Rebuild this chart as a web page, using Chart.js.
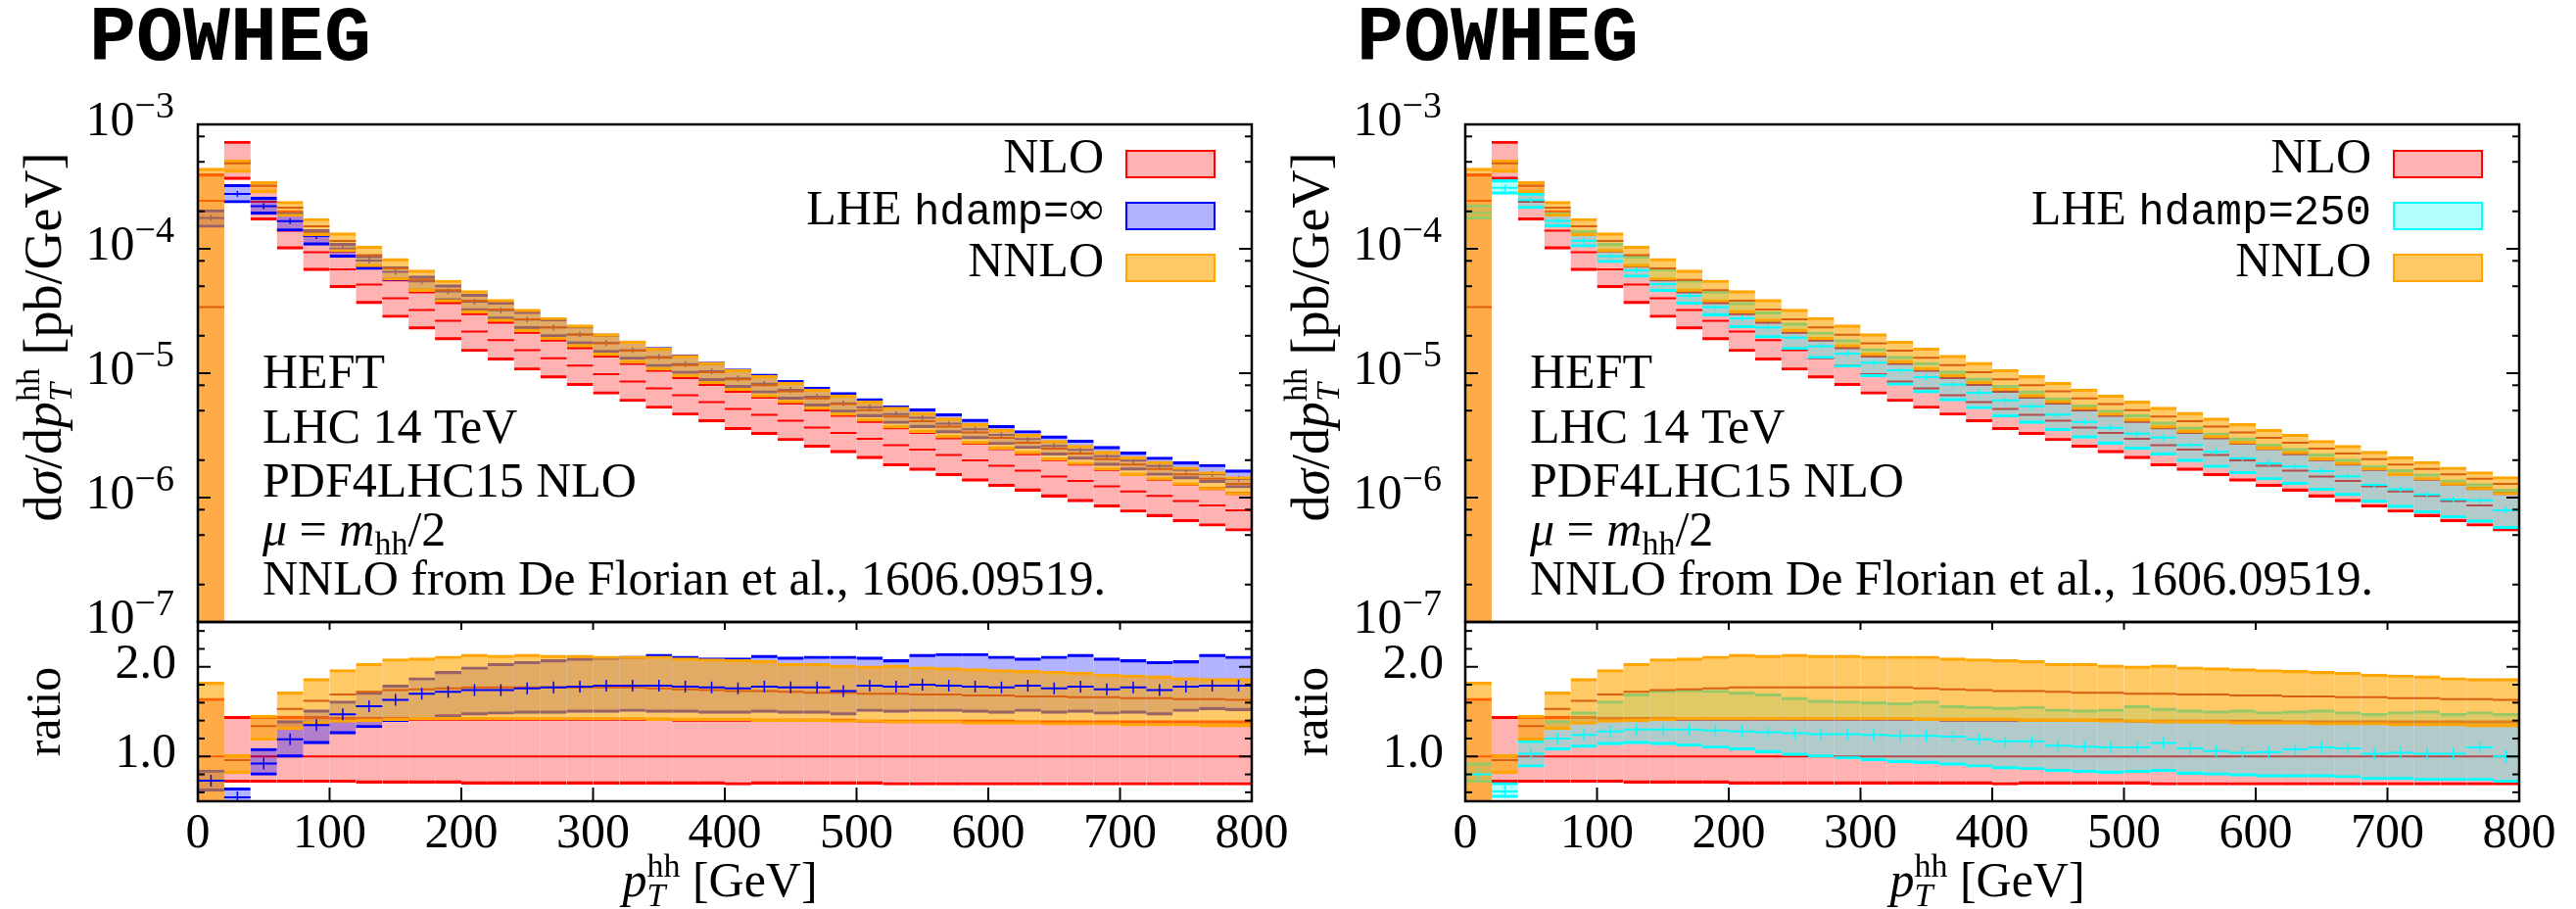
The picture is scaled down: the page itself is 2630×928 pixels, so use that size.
<!DOCTYPE html>
<html>
<head>
<meta charset="utf-8">
<title>POWHEG p_T^hh</title>
<script src="https://cdn.jsdelivr.net/npm/chart.js@4.4.1/dist/chart.umd.min.js"></script>
<style>
  html, body { margin: 0; padding: 0; background: #fff; }
  #wrap { position: relative; width: 2630px; height: 928px; overflow: hidden; }
  #wrap canvas { position: absolute; left: 0; top: 0; }
</style>
</head>
<body>
<div id="wrap">
  <canvas id="mainL" width="2630" height="928"></canvas>
  <canvas id="ratioL" width="2630" height="928"></canvas>
  <canvas id="mainR" width="2630" height="928"></canvas>
  <canvas id="ratioR" width="2630" height="928"></canvas>
</div>
<script>
// p_T^hh bins (GeV)
const binEdges = [0, 20, 40, 60, 80, 100, 120, 140, 160, 180, 200, 220, 240, 260, 280, 300, 320, 340, 360, 380,
  400, 420, 440, 460, 480, 500, 520, 540, 560, 580, 600, 620, 640, 660, 680, 700, 720, 740, 760, 780, 800];

// NLO central value, pb/GeV
const nloCentral = [2.43e-4, 5.07e-4, 2.39e-4, 1.40e-4, 9.38e-5, 6.83e-5, 5.16e-5, 4.00e-5, 3.22e-5, 2.64e-5,
  2.16e-5, 1.84e-5, 1.53e-5, 1.32e-5, 1.15e-5, 9.82e-6, 8.57e-6, 7.55e-6, 6.65e-6, 5.86e-6,
  5.16e-6, 4.63e-6, 4.15e-6, 3.66e-6, 3.31e-6, 2.97e-6, 2.64e-6, 2.43e-6, 2.20e-6, 1.99e-6,
  1.80e-6, 1.65e-6, 1.48e-6, 1.36e-6, 1.23e-6, 1.12e-6, 1.03e-6, 9.38e-7, 8.65e-7, 7.90e-7];

// everything below is a ratio to the NLO central value
const nloHiR = [1.65, 1.45, 1.45, 1.45, 1.45, 1.44, 1.44, 1.44, 1.43, 1.43,
  1.43, 1.43, 1.43, 1.43, 1.43, 1.43, 1.43, 1.43, 1.42, 1.42,
  1.42, 1.42, 1.42, 1.42, 1.42, 1.41, 1.41, 1.41, 1.41, 1.41,
  1.41, 1.40, 1.40, 1.40, 1.40, 1.40, 1.40, 1.40, 1.40, 1.40];
const nloLoR = [-0.40, 0.71, 0.71, 0.71, 0.71, 0.71, 0.70, 0.70, 0.70, 0.70,
  0.69, 0.69, 0.69, 0.69, 0.69, 0.69, 0.69, 0.69, 0.69, 0.69,
  0.68, 0.69, 0.69, 0.69, 0.69, 0.69, 0.68, 0.68, 0.68, 0.68,
  0.68, 0.68, 0.68, 0.68, 0.68, 0.68, 0.68, 0.68, 0.68, 0.68];

const nnloHiR = [1.83, 1.02, 1.46, 1.72, 1.87, 1.97, 2.04, 2.09, 2.10, 2.12,
  2.14, 2.13, 2.14, 2.13, 2.13, 2.12, 2.12, 2.12, 2.10, 2.09,
  2.08, 2.07, 2.04, 2.04, 2.02, 2.01, 2.02, 2.00, 1.99, 1.98,
  1.97, 1.96, 1.95, 1.94, 1.92, 1.91, 1.90, 1.88, 1.87, 1.87];
const nnloCR = [0.14, 0.96, 1.34, 1.53, 1.62, 1.69, 1.72, 1.74, 1.75, 1.76,
  1.77, 1.77, 1.77, 1.77, 1.77, 1.77, 1.77, 1.76, 1.75, 1.74,
  1.73, 1.73, 1.72, 1.71, 1.71, 1.70, 1.70, 1.69, 1.69, 1.68,
  1.68, 1.67, 1.67, 1.66, 1.66, 1.65, 1.65, 1.64, 1.64, 1.63];
const nnloLoR = [-0.50, 0.81, 1.18, 1.30, 1.36, 1.38, 1.39, 1.40, 1.41, 1.41,
  1.41, 1.41, 1.41, 1.41, 1.41, 1.41, 1.41, 1.40, 1.40, 1.40,
  1.40, 1.39, 1.39, 1.39, 1.38, 1.38, 1.37, 1.37, 1.37, 1.36,
  1.36, 1.36, 1.35, 1.35, 1.35, 1.34, 1.34, 1.34, 1.33, 1.33];

// LHE, hdamp = infinity (left)
const lheInfHiR = [0.85, 0.65, 1.09, 1.40, 1.52, 1.62, 1.72, 1.80, 1.88, 1.95,
  2.00, 2.04, 2.06, 2.08, 2.10, 2.11, 2.12, 2.14, 2.12, 2.10,
  2.10, 2.13, 2.11, 2.12, 2.12, 2.11, 2.08, 2.14, 2.15, 2.15,
  2.12, 2.10, 2.12, 2.14, 2.10, 2.08, 2.06, 2.07, 2.14, 2.12];
const lheInfCR = [0.73, 0.545, 0.92, 1.19, 1.35, 1.47, 1.56, 1.63, 1.70, 1.72,
  1.74, 1.74, 1.76, 1.77, 1.78, 1.79, 1.79, 1.79, 1.78, 1.77,
  1.76, 1.78, 1.77, 1.77, 1.73, 1.79, 1.78, 1.80, 1.79, 1.78,
  1.77, 1.79, 1.76, 1.78, 1.75, 1.77, 1.74, 1.78, 1.79, 1.79];
const lheInfLoR = [0.61, 0.46, 0.79, 0.99, 1.14, 1.25, 1.32, 1.39, 1.41, 1.44,
  1.46, 1.47, 1.48, 1.48, 1.49, 1.49, 1.50, 1.49, 1.49, 1.48,
  1.48, 1.49, 1.48, 1.48, 1.46, 1.50, 1.49, 1.50, 1.50, 1.49,
  1.48, 1.50, 1.48, 1.49, 1.47, 1.48, 1.46, 1.50, 1.52, 1.51];

// LHE, hdamp = 250 (right)
const lhe250HiR = [0.93, 0.71, 1.18, 1.40, 1.50, 1.62, 1.70, 1.74, 1.75, 1.74,
  1.72, 1.70, 1.66, 1.63, 1.62, 1.61, 1.60, 1.62, 1.57, 1.56,
  1.55, 1.56, 1.53, 1.52, 1.53, 1.57, 1.54, 1.52, 1.51, 1.52,
  1.50, 1.51, 1.52, 1.50, 1.48, 1.50, 1.51, 1.48, 1.50, 1.48];
const lhe250CR = [0.80, 0.61, 1.03, 1.20, 1.24, 1.28, 1.30, 1.30, 1.30, 1.29,
  1.28, 1.27, 1.26, 1.25, 1.25, 1.24, 1.23, 1.23, 1.22, 1.19,
  1.17, 1.17, 1.12, 1.11, 1.10, 1.10, 1.15, 1.09, 1.06, 1.04,
  1.05, 1.08, 1.10, 1.09, 1.03, 1.04, 1.03, 1.03, 1.10, 1.00];
const lhe250LoR = [0.71, 0.54, 0.88, 1.07, 1.10, 1.13, 1.14, 1.13, 1.11, 1.09,
  1.07, 1.04, 1.01, 0.99, 0.97, 0.95, 0.93, 0.92, 0.90, 0.88,
  0.86, 0.85, 0.83, 0.82, 0.81, 0.82, 0.83, 0.80, 0.79, 0.78,
  0.77, 0.77, 0.77, 0.76, 0.74, 0.74, 0.73, 0.73, 0.73, 0.71];

// axis ticks
const xTicks = [0, 100, 200, 300, 400, 500, 600, 700, 800];
const logExps = [-3, -4, -5, -6, -7];
const logMinorMant = [2, 5, 8];
const ratioTicks = [0.6, 0.8, 1.0, 1.2, 1.4, 1.6, 1.8, 2.0, 2.2, 2.4];
const ratioLabelled = [1.0, 2.0];

const colNLO = { line: '#ff0000', fill: 'rgba(255,0,0,0.3)' };
const colInf = { line: '#0000ff', fill: 'rgba(0,0,255,0.3)' };
const col250 = { line: '#00ffff', fill: 'rgba(0,255,255,0.3)' };
const colNNLO = { line: '#ffa500', fill: 'rgba(255,165,0,0.6)', mid: '#d9600e' };

const SERIF = "'Liberation Serif', 'Times New Roman', serif";
const MONO = "'Liberation Mono', 'Courier New', monospace";
const R50 = '50px ' + SERIF, I50 = 'italic 50px ' + SERIF;
const R54 = '54px ' + SERIF, I54 = 'italic 54px ' + SERIF;
const R34 = '34px ' + SERIF, I34 = 'italic 34px ' + SERIF, R38 = '38px ' + SERIF;
const TT = '44px ' + MONO;

const belowAxis = 1e-9; // negative/zero values: drawn down to the frame

function mid(i) { return (binEdges[i] + binEdges[i + 1]) / 2; }
function toMain(r) { return r.map((v, i) => v > 0 ? v * nloCentral[i] : belowAxis); }

function band(lo, hi, col, order) {
  return {
    type: 'bar',
    data: lo.map((l, i) => ({ x: mid(i), y: [l, hi[i]] })),
    backgroundColor: col.fill,
    borderColor: col.line,
    borderWidth: { top: 2.5, bottom: 2.5, left: 0, right: 0 },
    borderSkipped: false,
    barPercentage: 1,
    categoryPercentage: 1,
    grouped: false,
    order
  };
}
function steps(vals, color, order) {
  const pts = [];
  vals.forEach((v, i) => {
    pts.push({ x: binEdges[i], y: v }, { x: binEdges[i + 1], y: v }, { x: binEdges[i + 1], y: null });
  });
  return { type: 'line', data: pts, borderColor: color, borderWidth: 2, pointRadius: 0, spanGaps: false, fill: false, order };
}
function marks(vals, color, radius, order) {
  return {
    type: 'line', showLine: false,
    data: vals.map((v, i) => ({ x: mid(i), y: v })),
    pointStyle: 'line', pointRotation: 90, pointRadius: radius,
    pointBorderColor: color, pointBorderWidth: 1.5, order
  };
}

function buildSets(isMain, lhe, lheCol) {
  const f = isMain ? toMain : (r => r);
  const ones = nloCentral.map(() => 1);
  return [
    band(f(nloLoR), f(nloHiR), colNLO, 60),
    steps(isMain ? nloCentral : ones, colNLO.line, 55),
    band(f(lhe.lo), f(lhe.hi), lheCol, 50),
    steps(f(lhe.c), lheCol.line, isMain ? 45 : 30),
    marks(f(lhe.c), lheCol.line, isMain ? 3 : 6, isMain ? 44 : 29),
    band(f(nnloLoR), f(nnloHiR), colNNLO, 40),
    steps(f(nnloCR), colNNLO.mid, 35)
  ];
}

function hseg(ctx, x0, y, x1) { ctx.beginPath(); ctx.moveTo(x0, y); ctx.lineTo(x1, y); ctx.stroke(); }
function vseg(ctx, x, y0, y1) { ctx.beginPath(); ctx.moveTo(x, y0); ctx.lineTo(x, y1); ctx.stroke(); }

function partWidth(ctx, p) {
  const items = p.stack || [p];
  return Math.max(...items.map(q => { ctx.font = q.font; return ctx.measureText(q.t).width; }));
}
function drawRich(ctx, parts, x, y, align) {
  const widths = parts.map(p => partWidth(ctx, p));
  const total = widths.reduce((s, w) => s + w, 0);
  let cx = align === 'right' ? x - total : align === 'center' ? x - total / 2 : x;
  ctx.textAlign = 'left';
  ctx.textBaseline = 'alphabetic';
  parts.forEach((p, i) => {
    (p.stack || [p]).forEach(q => { ctx.font = q.font; ctx.fillText(q.t, cx, y + (q.dy || 0)); });
    cx += widths[i];
  });
}
function drawRotated(ctx, parts, bx, cy) {
  ctx.save();
  ctx.translate(bx, cy);
  ctx.rotate(-Math.PI / 2);
  drawRich(ctx, parts, 0, 0, 'center');
  ctx.restore();
}

const pT = [{ t: 'p', font: I50 }, { stack: [{ t: 'hh', font: R34, dy: -20 }, { t: 'T', font: I34, dy: 10 }] }];
const yTitle = [{ t: 'd', font: R54 }, { t: 'σ', font: I54 }, { t: '/d', font: R54 }, { t: 'p', font: I54 },
  { stack: [{ t: 'hh', font: R34, dy: -22 }, { t: 'T', font: I34, dy: 11 }] }, { t: ' [pb/GeV]', font: R54 }];
const notes = [
  [{ t: 'HEFT', font: R50 }],
  [{ t: 'LHC 14 TeV', font: R50 }],
  [{ t: 'PDF4LHC15 NLO', font: R50 }],
  [{ t: 'μ', font: I50 }, { t: ' = ', font: R50 }, { t: 'm', font: I50 }, { t: 'hh', font: R34, dy: 9 }, { t: '/2', font: R50 }],
  [{ t: 'NNLO from De Florian et al., 1606.09519.', font: R50 }]
];
const noteBase = [396, 452, 507, 557, 607];

const decor = {
  id: 'decor',
  afterDatasetsDraw(chart) {
    const { ctx, chartArea: a } = chart;
    ctx.save();
    ctx.strokeStyle = '#000';
    ctx.lineWidth = 2.5;
    ctx.strokeRect(a.left, a.top, a.right - a.left, a.bottom - a.top);
    ctx.restore();
  },
  afterDraw(chart, args, o) {
    const { ctx, chartArea: a, scales: { x, y } } = chart;
    ctx.save();
    ctx.fillStyle = '#000';
    ctx.strokeStyle = '#000';
    ctx.lineWidth = 2;
    if (o.kind === 'main') {
      logExps.forEach(e => {
        const py = y.getPixelForValue(Math.pow(10, e));
        hseg(ctx, a.left, py, a.left + 13);
        hseg(ctx, a.right - 13, py, a.right);
        drawRich(ctx, [{ t: '10', font: R50 }, { t: '−' + (-e), font: R38, dy: -18 }], a.left - 24, py + 11, 'right');
      });
      logExps.slice(1).forEach(e => {
        logMinorMant.forEach(m => {
          const py = y.getPixelForValue(m * Math.pow(10, e));
          hseg(ctx, a.left, py, a.left + 7);
          hseg(ctx, a.right - 7, py, a.right);
        });
      });
      drawRotated(ctx, yTitle, a.left - 140, 344);
      ctx.font = 'bold 80px ' + MONO;
      ctx.textAlign = 'left';
      ctx.fillText('POWHEG', a.left - 111, 61);
      notes.forEach((n, i) => drawRich(ctx, n, a.left + 66, noteBase[i], 'left'));
      o.legend.forEach((item, i) => {
        const cy = 167.5 + i * 53;
        drawRich(ctx, item.parts, a.right - 151, cy + 8.5, 'right');
        ctx.fillStyle = item.col.fill;
        ctx.fillRect(a.right - 128, cy - 13.5, 90, 27);
        ctx.strokeStyle = item.col.line;
        ctx.lineWidth = 2;
        ctx.strokeRect(a.right - 128, cy - 13.5, 90, 27);
        ctx.fillStyle = '#000';
        ctx.strokeStyle = '#000';
      });
    } else {
      ratioTicks.forEach(v => {
        const py = y.getPixelForValue(v);
        const len = ratioLabelled.includes(v) ? 13 : 7;
        hseg(ctx, a.left, py, a.left + len);
        hseg(ctx, a.right - len, py, a.right);
        if (ratioLabelled.includes(v)) drawRich(ctx, [{ t: v.toFixed(1), font: R50 }], a.left - 22, py + 11, 'right');
      });
      xTicks.forEach(v => {
        const px = x.getPixelForValue(v);
        vseg(ctx, px, a.bottom, a.bottom - 14);
        vseg(ctx, px, a.top, a.top + 8);
        drawRich(ctx, [{ t: String(v), font: R50 }], px, 865, 'center');
      });
      drawRich(ctx, pT.concat([{ t: ' [GeV]', font: R50 }]), (a.left + a.right) / 2 - 5, 915, 'center');
      drawRotated(ctx, [{ t: 'ratio', font: R50 }], a.left - 141, (a.top + a.bottom) / 2);
    }
    ctx.restore();
  }
};

function makeChart(id, isMain, left, sets, legend) {
  const top = isMain ? 127 : 635, bottom = isMain ? 635 : 818;
  return new Chart(document.getElementById(id), {
    type: 'bar',
    data: { datasets: sets },
    options: {
      responsive: false,
      animation: false,
      devicePixelRatio: 1,
      events: [],
      layout: { padding: { left: left, right: 2630 - (left + 1076), top: top, bottom: 928 - bottom } },
      scales: {
        x: { type: 'linear', min: 0, max: 800, offset: false, display: false, grid: { offset: false }, ticks: { stepSize: 100 } },
        y: isMain
          ? { type: 'logarithmic', min: 1e-7, max: 1e-3, display: false }
          : { type: 'linear', min: 0.5, max: 2.5, display: false }
      },
      plugins: {
        legend: { display: false },
        tooltip: { enabled: false },
        decor: { kind: isMain ? 'main' : 'ratio', legend: legend || [] }
      }
    },
    plugins: [decor]
  });
}

const lheInf = { lo: lheInfLoR, c: lheInfCR, hi: lheInfHiR };
const lhe250 = { lo: lhe250LoR, c: lhe250CR, hi: lhe250HiR };
const legendL = [
  { parts: [{ t: 'NLO', font: R50 }], col: colNLO },
  { parts: [{ t: 'LHE ', font: R50 }, { t: 'hdamp=', font: TT }, { t: '∞', font: R50 }], col: colInf },
  { parts: [{ t: 'NNLO', font: R50 }], col: colNNLO }
];
const legendR = [
  { parts: [{ t: 'NLO', font: R50 }], col: colNLO },
  { parts: [{ t: 'LHE ', font: R50 }, { t: 'hdamp=250', font: TT }], col: col250 },
  { parts: [{ t: 'NNLO', font: R50 }], col: colNNLO }
];

makeChart('mainL', true, 202, buildSets(true, lheInf, colInf), legendL);
makeChart('ratioL', false, 202, buildSets(false, lheInf, colInf));
makeChart('mainR', true, 1496, buildSets(true, lhe250, col250), legendR);
makeChart('ratioR', false, 1496, buildSets(false, lhe250, col250));
</script>
</body>
</html>
